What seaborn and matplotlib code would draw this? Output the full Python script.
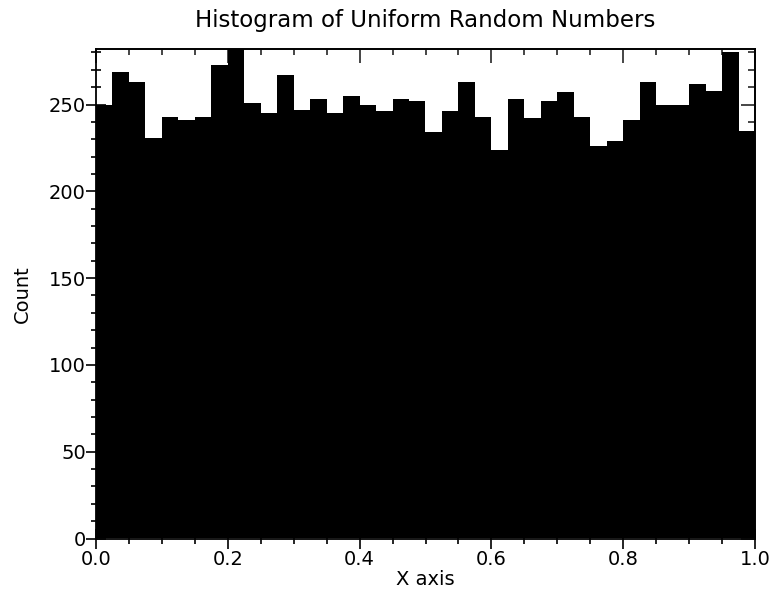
import numpy as np
import pandas as pd
import matplotlib
matplotlib.use("Agg")
import matplotlib.pyplot as plt
from matplotlib.ticker import MultipleLocator
import seaborn as sns

# Counts per bin for 40 equal-width bins spanning [0, 1]
counts = [250, 269, 263, 231, 243, 241, 243, 273, 282, 251,
          245, 267, 247, 253, 245, 255, 250, 246, 253, 252,
          234, 246, 263, 243, 224, 253, 242, 252, 257, 243,
          226, 229, 241, 263, 250, 250, 262, 258, 280, 235]
n_bins = 40
x_range = (0.0, 1.0)
x_ticks = [0.0, 0.2, 0.4, 0.6, 0.8, 1.0]
x_tick_labels = ["0.0", "0.2", "0.4", "0.6", "0.8", "1.0"]
y_ticks = [0, 50, 100, 150, 200, 250]

title = "Histogram of Uniform Random Numbers"
x_label = "X axis"
y_label = "Count"

edges = np.linspace(x_range[0], x_range[1], n_bins + 1)
centers = (edges[:-1] + edges[1:]) / 2
df = pd.DataFrame({"x": centers, "count": counts})

sns.set_style("white")
plt.rcParams["font.family"] = ["DejaVu Sans"]

W, H, DPI = 774, 597, 100
fig = plt.figure(figsize=(W / DPI, H / DPI), dpi=DPI)
L, R, T, B = 96, 755, 49, 538.5
ax = fig.add_axes([L / W, 1 - B / H, (R - L) / W, (B - T) / H])

sns.histplot(data=df, x="x", weights="count", bins=n_bins, binrange=x_range,
             element="step", fill=True, color="black", alpha=1.0,
             linewidth=0, edgecolor="black", ax=ax)

ax.set_xlim(*x_range)
ax.set_ylim(0, max(counts))
ax.set_xticks(x_ticks)
ax.set_xticklabels(x_tick_labels)
ax.set_yticks(y_ticks)
ax.xaxis.set_minor_locator(MultipleLocator(0.05))
ax.yaxis.set_minor_locator(MultipleLocator(10))

px = 0.72  # points per pixel at 100 dpi
for side in ["left", "bottom", "right", "top"]:
    ax.spines[side].set_visible(True)
    ax.spines[side].set_color("black")
    ax.spines[side].set_linewidth(1.3)

ax.tick_params(axis="both", which="major", direction="inout", length=20 * px,
               width=1.2, color="black", labelsize=14, labelcolor="black",
               left=True, bottom=True, right=False, top=False, pad=1)
ax.tick_params(axis="both", which="minor", direction="inout", length=10 * px,
               width=1.2, color="black", left=True, bottom=True,
               right=False, top=False)
ax.tick_params(axis="y", which="major", pad=0)

# Inward-only ticks along the right and top edges
sec_y = ax.secondary_yaxis("right")
sec_y.set_yticks(y_ticks)
sec_y.yaxis.set_minor_locator(MultipleLocator(10))
sec_y.tick_params(which="major", direction="in", length=14 * px, width=1.2,
                  labelright=False)
sec_y.tick_params(which="minor", direction="in", length=7 * px, width=1.2)
sec_y.spines["right"].set_linewidth(1.3)

sec_x = ax.secondary_xaxis("top")
sec_x.set_xticks(x_ticks)
sec_x.xaxis.set_minor_locator(MultipleLocator(0.05))
sec_x.tick_params(which="major", direction="in", length=14 * px, width=1.2,
                  labeltop=False)
sec_x.tick_params(which="minor", direction="in", length=6 * px, width=1.2)
sec_x.spines["top"].set_linewidth(1.3)

ax.set_xlabel(x_label, fontsize=14, color="black", labelpad=1)
ax.set_ylabel(y_label, fontsize=14, color="black", labelpad=12)

fig.text((L + R) / 2 / W, 1 - 27 / H, title, ha="center", va="baseline",
         fontsize=16.5, color="black")

fig.savefig("out.png", dpi=DPI, facecolor="white")
